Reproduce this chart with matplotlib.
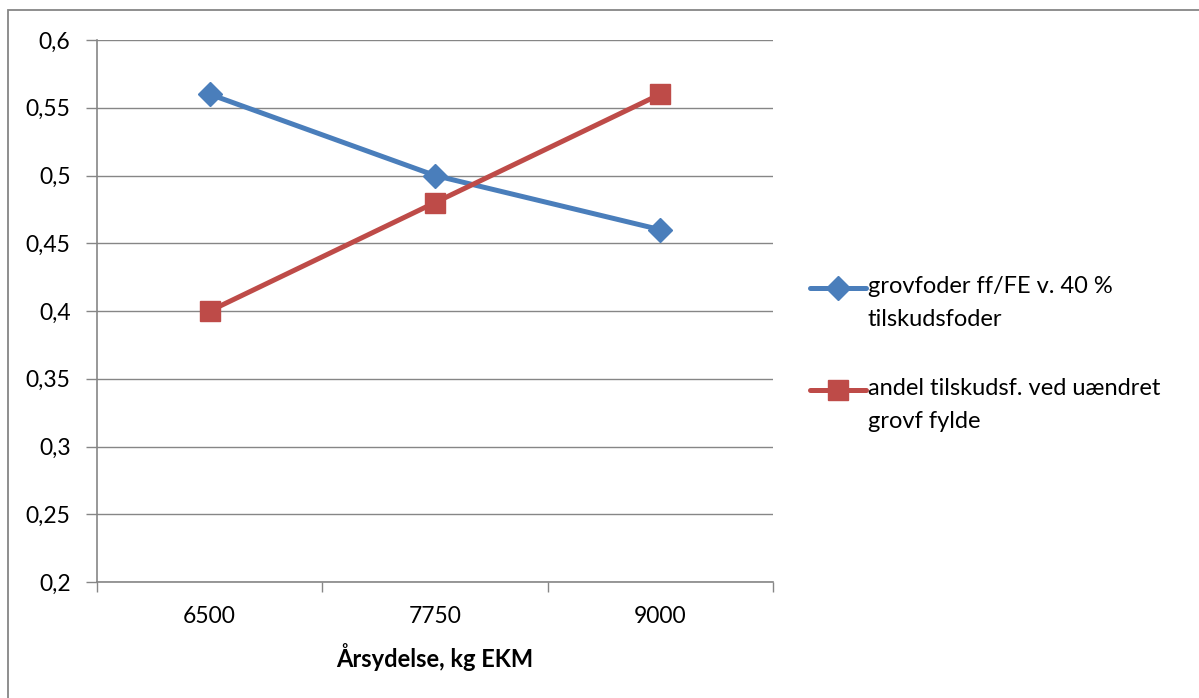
import matplotlib
matplotlib.use("Agg")
import matplotlib.pyplot as plt
from matplotlib.lines import Line2D
from matplotlib.patches import Rectangle
from matplotlib.ticker import FuncFormatter, FixedLocator

plt.rcParams['font.family'] = ['Lato', 'DejaVu Sans']

categories = ["6500", "7750", "9000"]
series_blue = [0.56, 0.50, 0.46]
series_red = [0.40, 0.48, 0.56]
label_blue = "grovfoder ff/FE v. 40 %\ntilskudsfoder"
label_red = "andel tilskudsf. ved uændret\ngrovf fylde"
xlabel = "Årsydelse, kg EKM"
yticks = [0.2, 0.25, 0.3, 0.35, 0.4, 0.45, 0.5, 0.55, 0.6]

BLUE = "#4A7EBB"
RED = "#BE4B48"
GRID = "#868686"

W, H = 1199, 698
fig = plt.figure(figsize=(W / 100, H / 100), dpi=100)

def fx(px):
    return px / W

def fy(py):
    return 1 - py / H

# outer border
fig.add_artist(Rectangle((fx(8), fy(H + 5)), fx(W + 10), fy(10) - fy(H + 5),
                         transform=fig.transFigure, fill=False,
                         edgecolor=GRID, linewidth=1.3))

ax = fig.add_axes([fx(97), fy(582), fx(773) - fx(97), fy(40) - fy(582)])
x = list(range(len(categories)))

ax.plot(x, series_blue, color=BLUE, linewidth=3.6, marker="D", markersize=12,
        zorder=3)
ax.plot(x, series_red, color=RED, linewidth=3.6, marker="s", markersize=14,
        zorder=3)

ax.set_xlim(-0.5, len(categories) - 0.5)
ax.set_ylim(0.2, 0.6)
ax.set_yticks(yticks)
ax.yaxis.set_major_formatter(FuncFormatter(lambda v, p: f"{v:g}".replace(".", ",")))
ax.grid(axis="y", color=GRID, linewidth=1)
ax.set_axisbelow(True)

ax.set_xticks(x)
ax.set_xticklabels(categories)
ax.xaxis.set_minor_locator(FixedLocator([i - 0.5 for i in range(len(categories) + 1)]))
ax.tick_params(axis="x", which="major", length=0, pad=17, labelsize=16.5)
ax.tick_params(axis="x", which="minor", length=7, width=1, color=GRID, direction="out")
ax.tick_params(axis="y", length=8, width=1, color=GRID, direction="out", pad=11,
               labelsize=16.5)

for s in ["top", "right"]:
    ax.spines[s].set_visible(False)
for s in ["left", "bottom"]:
    ax.spines[s].set_color(GRID)
    ax.spines[s].set_linewidth(1.2)

ax.set_xlabel(xlabel, fontsize=17, fontweight="bold", labelpad=12)

# legend drawn manually to match layout
def legend_entry(ypx, color, marker, ms, label):
    fig.add_artist(Line2D([fx(810), fx(866)], [fy(ypx), fy(ypx)],
                          transform=fig.transFigure, color=color, linewidth=3.6,
                          solid_capstyle="round"))
    fig.add_artist(Line2D([fx(838)], [fy(ypx)], transform=fig.transFigure,
                          color=color, marker=marker, markersize=ms,
                          linestyle="none"))
    fig.text(fx(868), fy(ypx - 12), label, fontsize=17, va="top", ha="left",
             linespacing=1.68)

legend_entry(288, BLUE, "D", 12, label_blue)
legend_entry(390, RED, "s", 14, label_red)

fig.savefig("out.png", dpi=100)
